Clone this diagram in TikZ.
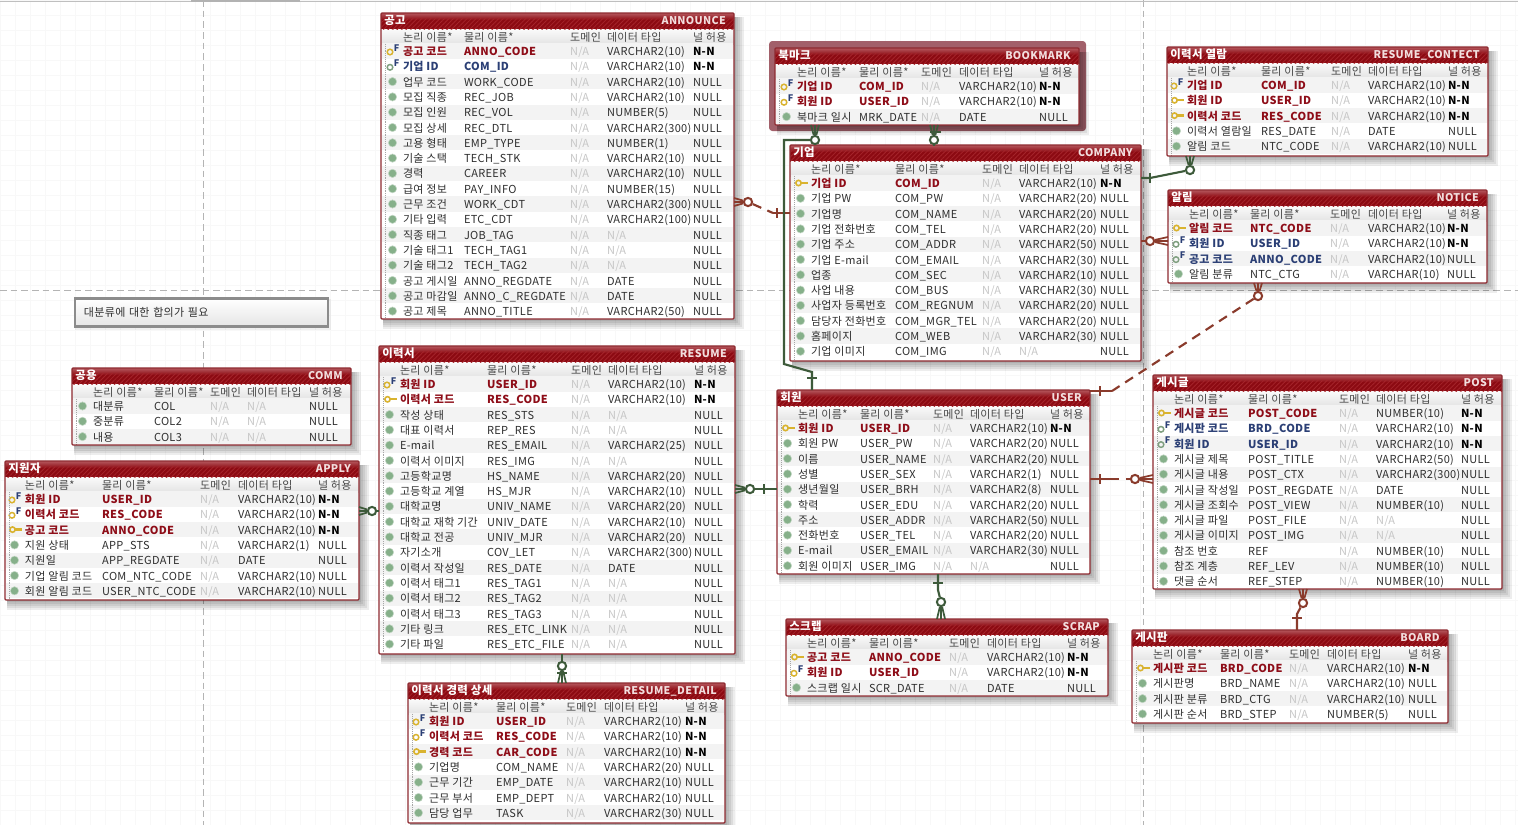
\documentclass[tikz,border=0pt]{standalone}
\usepackage{fontspec}
\setmainfont{Noto Sans CJK KR}[LetterSpace=3]
\usetikzlibrary{patterns.meta,calc}
\definecolor{frame}{HTML}{8E2A30}
\definecolor{barhi}{HTML}{B5575D}
\definecolor{barlo}{HTML}{8C0A12}
\definecolor{hatch}{HTML}{A5242B}
\definecolor{pinkw}{HTML}{F2DEDE}
\definecolor{stripe}{HTML}{F3F3F3}
\definecolor{hdhi}{HTML}{FAFAFA}
\definecolor{hdlo}{HTML}{E4E4E4}
\definecolor{txt}{HTML}{2E2E2E}
\definecolor{hdr}{HTML}{484848}
\definecolor{nagray}{HTML}{C6C6C6}
\definecolor{pkred}{HTML}{8E0D18}
\definecolor{fkblue}{HTML}{2B3F75}
\definecolor{keyyel}{HTML}{D9B32F}
\definecolor{keygrn}{HTML}{7F9F7F}
\definecolor{dotgrn}{HTML}{86B08A}
\definecolor{relg}{HTML}{3D5A3A}
\definecolor{relb}{HTML}{8A3B2C}
\definecolor{gridc}{HTML}{F8F8F8}
\definecolor{pagec}{HTML}{B4B4B4}
\definecolor{halo}{HTML}{A2606A}
\tikzset{
  cell/.style={anchor=base west,inner sep=0pt,outer sep=0pt,font=\fontsize{8.25}{10}\selectfont},
  colhd/.style={cell,text=hdr},
  namec/.style={cell,text=txt},
  namep/.style={cell,text=pkred,font=\fontsize{8.25}{10}\selectfont\bfseries},
  namef/.style={namep},
  namek/.style={cell,text=fkblue,font=\fontsize{8.25}{10}\selectfont\bfseries},
  valY/.style={cell,text=black,font=\fontsize{8.25}{10}\selectfont\bfseries},
  valN/.style={cell,text=txt},
  tabbox/.style={rectangle,draw=none,fill=white,inner sep=0pt,outer sep=0pt},
  relgreen/.style={draw=relg,line width=1.6pt},
  relbrown/.style={draw=relb,line width=1.6pt},
  reldash/.style={relbrown,dash pattern=on 7pt off 5pt},
  ringg/.style={circle,draw=relg,line width=1.5pt,fill=white,minimum size=6.2pt,inner sep=0pt},
  ringb/.style={circle,draw=relb,line width=1.5pt,fill=white,minimum size=6.2pt,inner sep=0pt},
}
\def\ernullY{N-N}
\def\ernullN{NULL}
\newcommand\navl{\textcolor{nagray}{N/A}}
\def\ficon#1#2#3{% x y colour
  \draw[#3,line width=1.1pt] (#1-3.5,#2+1) circle[radius=2.1pt];
  \node[inner sep=0pt,text=fkblue,font=\fontsize{6.8}{7}\selectfont\bfseries] at (#1+3,#2-3) {F};}
\def\ermarkp#1#2{%
  \draw[keyyel,line width=1.2pt] (#1-3,#2) circle[radius=2pt];
  \draw[keyyel,line width=1.7pt] (#1-.5,#2) -- (#1+6,#2);}
\def\ermarkf#1#2{\ficon{#1}{#2}{keyyel}}
\def\ermarkk#1#2{\ficon{#1}{#2}{keygrn}}
\def\ermarkc#1#2{\fill[dotgrn,draw=dotgrn!50!white,line width=.4pt] (#1-1,#2) circle[radius=3.1pt];}
\def\parsecols#1/#2/#3/#4/#5\relax{\def\ca{#1}\def\cb{#2}\def\cc{#3}\def\cd{#4}\def\ce{#5}}
% id x1 y1 x2 y2 korean english columns rows
\def\ertable#1#2#3#4#5#6#7#8#9{%
  \parsecols#8\relax
  \foreach \s in {10,8,6,4,2}{\fill[black,opacity=.07] (#2+2,#3+4) rectangle (#4+\s,#5+\s);}
  \node[tabbox,minimum width={(#4-#2)*.75pt},minimum height={(#5-#3)*.75pt}] (#1) at ({(#2+#4)/2},{(#3+#5)/2}) {};
  \fill[top color=hdhi,bottom color=hdlo] (#2,#3+16) rectangle (#4,#3+31);
  \foreach \mk/\lgn/\ph/\ty/\nl [count=\i] in {#9}{
    \pgfmathsetmacro\yy{#3+38+(\i-1)*15.3}
    \ifodd\i\relax\fill[stripe] (#2+1,\yy-7.6) rectangle (#4-1,\yy+7.6);\fi
    \csname ermark\mk\endcsname{\ca-9.5}{\yy}
    \node[name\mk] (#1-\i-l) at (\ca,\yy+4.5) {\lgn};
    \node[name\mk] (#1-\i-p) at (\cb,\yy+4.5) {\ph};
    \node[cell,text=nagray] (#1-\i-d) at (\cc,\yy+4.5) {N/A};
    \node[cell,text=txt] (#1-\i-t) at (\cd,\yy+4.5) {\ty};
    \node[val\nl] (#1-\i-n) at (\ce,\yy+4.5) {\csname ernull\nl\endcsname};
  }
  \draw[black!35,densely dotted,line width=.4pt] (#2+4,#3+31) -- (#2+4,#5-1);
  \fill[top color=barhi,bottom color=barlo] (#2,#3) rectangle (#4,#3+7);
  \fill[barlo] (#2,#3+7) rectangle (#4,#3+16);
  \fill[pattern={Lines[angle=45,distance=2.4pt,line width=.6pt]},pattern color=hatch] (#2,#3+5) rectangle (#4,#3+16);
  \node[anchor=base west,inner sep=0pt,text=white,font=\fontsize{8.6}{10}\selectfont\bfseries] (#1-kr) at (#2+3,#3+11.5) {#6};
  \node[anchor=base east,inner sep=0pt,text=pinkw,font=\fontsize{8}{10}\selectfont\bfseries] (#1-en) at (#4-8,#3+11.5) {#7};
  \node[colhd] (#1-h1) at (\ca,#3+28) {논리 이름*};
  \node[colhd] (#1-h2) at (\cb,#3+28) {물리 이름*};
  \node[colhd] (#1-h3) at (\cc,#3+28) {도메인};
  \node[colhd] (#1-h4) at (\cd,#3+28) {데이터 타입};
  \node[colhd] (#1-h5) at (\ce,#3+28) {널 허용};
  \draw[frame,line width=.9pt,rounded corners=.8pt] (#2,#3) rectangle (#4,#5);
}
% circle-node, target, offset: three-line crow's foot
\def\crow#1#2#3#4{\draw[#4,line width=1.3pt] (#1) -- ($(#2)+(#3)$) (#1) -- (#2) (#1) -- ($(#2)-(#3)$);}
\catcode`\_=12
\begin{document}
\begin{tikzpicture}[x=.75pt,y=-.75pt]
\useasboundingbox (0,0) rectangle (1518,825);
\fill[white] (0,0) rectangle (1518,825);
% faint sheet grid
\foreach \gx in {0,15,...,1515}{\draw[gridc,line width=.4pt] (\gx,0) -- (\gx,825);}
\foreach \gy in {0,15,...,825}{\draw[gridc,line width=.4pt] (0,\gy) -- (1518,\gy);}
% page breaks
\draw[pagec,line width=.6pt,dash pattern=on 5pt off 3pt] (203,0) -- (203,825);
\draw[pagec,line width=.6pt,dash pattern=on 5pt off 3pt] (1143,0) -- (1143,825);
\draw[pagec,line width=.6pt,dash pattern=on 5pt off 3pt] (0,290) -- (1518,290);
\draw[black!25,line width=.5pt] (0,1.5) -- (1518,1.5);
\fill[black!30] (191,0) rectangle (300,2);
% note
\fill[black,opacity=.06] (75,299) rectangle (331,330);
\node[rectangle,draw=black!45,line width=2.1pt,top color=white,bottom color=black!10,minimum width=253*.75pt,minimum height=28*.75pt,text width=235*.75pt,inner xsep=6.75pt,inner ysep=0pt,align=left,anchor=north west,text=txt,font=\fontsize{8.25}{10}\selectfont] (note) at (73.5,297) {대분류에 대한 합의가 필요};

\ertable{announce}{381}{13}{734}{319}{공고}{ANNOUNCE}{403/464/570/607/693}{
 f/공고 코드/ANNO_CODE/VARCHAR2(10)/Y, k/기업 ID/COM_ID/VARCHAR2(10)/Y,
 c/업무 코드/WORK_CODE/VARCHAR2(10)/N, c/모집 직종/REC_JOB/VARCHAR2(10)/N,
 c/모집 인원/REC_VOL/NUMBER(5)/N, c/모집 상세/REC_DTL/VARCHAR2(300)/N,
 c/고용 형태/EMP_TYPE/NUMBER(1)/N, c/기술 스택/TECH_STK/VARCHAR2(10)/N,
 c/경력/CAREER/VARCHAR2(10)/N, c/급여 정보/PAY_INFO/NUMBER(15)/N,
 c/근무 조건/WORK_CDT/VARCHAR2(300)/N, c/기타 입력/ETC_CDT/VARCHAR2(100)/N,
 c/직종 태그/JOB_TAG/\navl/N, c/기술 태그1/TECH_TAG1/\navl/N,
 c/기술 태그2/TECH_TAG2/\navl/N, c/공고 게시일/ANNO_REGDATE/DATE/N,
 c/공고 마감일/ANNO_C_REGDATE/DATE/N, c/공고 제목/ANNO_TITLE/VARCHAR2(50)/N}

\fill[halo,rounded corners=2.5pt] (769,41) rectangle (1086,131);
\ertable{bookmark}{775}{48}{1079}{125}{북마크}{BOOKMARK}{797/859/921/959/1039}{
 f/기업 ID/COM_ID/VARCHAR2(10)/Y, f/회원 ID/USER_ID/VARCHAR2(10)/Y,
 c/북마크 일시/MRK_DATE/DATE/N}

\ertable{company}{790}{145}{1141}{361}{기업}{COMPANY}{811/895/982/1019/1100}{
 p/기업 ID/COM_ID/VARCHAR2(10)/Y, c/기업 PW/COM_PW/VARCHAR2(20)/N,
 c/기업명/COM_NAME/VARCHAR2(20)/N, c/기업 전화번호/COM_TEL/VARCHAR2(20)/N,
 c/기업 주소/COM_ADDR/VARCHAR2(50)/N, c/기업 E-mail/COM_EMAIL/VARCHAR2(30)/N,
 c/업종/COM_SEC/VARCHAR2(10)/N, c/사업 내용/COM_BUS/VARCHAR2(30)/N,
 c/사업자 등록번호/COM_REGNUM/VARCHAR2(20)/N, c/담당자 전화번호/COM_MGR_TEL/VARCHAR2(20)/N,
 c/홈페이지/COM_WEB/VARCHAR2(30)/N, c/기업 이미지/COM_IMG/\navl/N}

\ertable{contect}{1167}{47}{1488}{156}{이력서 열람}{RESUME_CONTECT}{1187/1261/1331/1368/1448}{
 f/기업 ID/COM_ID/VARCHAR2(10)/Y, p/회원 ID/USER_ID/VARCHAR2(10)/Y,
 p/이력서 코드/RES_CODE/VARCHAR2(10)/Y, c/이력서 열람일/RES_DATE/DATE/N,
 c/알림 코드/NTC_CODE/VARCHAR2(10)/N}

\ertable{notice}{1168}{190}{1487}{283}{알림}{NOTICE}{1189/1250/1330/1368/1447}{
 p/알림 코드/NTC_CODE/VARCHAR2(10)/Y, k/회원 ID/USER_ID/VARCHAR2(10)/Y,
 k/공고 코드/ANNO_CODE/VARCHAR2(10)/N, c/알림 분류/NTC_CTG/VARCHAR(10)/N}

\ertable{comm}{72}{368}{351}{445}{공용}{COMM}{93/154/210/247/309}{
 c/대분류/COL/\navl/N, c/중분류/COL2/\navl/N, c/내용/COL3/\navl/N}

\ertable{apply}{5}{461}{359}{600}{지원자}{APPLY}{25/102/200/238/318}{
 f/회원 ID/USER_ID/VARCHAR2(10)/Y, f/이력서 코드/RES_CODE/VARCHAR2(10)/Y,
 p/공고 코드/ANNO_CODE/VARCHAR2(10)/Y, c/지원 상태/APP_STS/VARCHAR2(1)/N,
 c/지원일/APP_REGDATE/DATE/N, c/기업 알림 코드/COM_NTC_CODE/VARCHAR2(10)/N,
 c/회원 알림 코드/USER_NTC_CODE/VARCHAR2(10)/N}

\ertable{resume}{379}{346}{735}{654}{이력서}{RESUME}{400/487/571/608/694}{
 f/회원 ID/USER_ID/VARCHAR2(10)/Y, p/이력서 코드/RES_CODE/VARCHAR2(10)/Y,
 c/작성 상태/RES_STS/\navl/N, c/대표 이력서/REP_RES/\navl/N,
 c/E-mail/RES_EMAIL/VARCHAR2(25)/N, c/이력서 이미지/RES_IMG/\navl/N,
 c/고등학교명/HS_NAME/VARCHAR2(20)/N, c/고등학교 계열/HS_MJR/VARCHAR2(10)/N,
 c/대학교명/UNIV_NAME/VARCHAR2(20)/N, c/대학교 재학 기간/UNIV_DATE/VARCHAR2(10)/N,
 c/대학교 전공/UNIV_MJR/VARCHAR2(20)/N, c/자기소개/COV_LET/VARCHAR2(300)/N,
 c/이력서 작성일/RES_DATE/DATE/N, c/이력서 태그1/RES_TAG1/\navl/N,
 c/이력서 태그2/RES_TAG2/\navl/N, c/이력서 태그3/RES_TAG3/\navl/N,
 c/기타 링크/RES_ETC_LINK/\navl/N, c/기타 파일/RES_ETC_FILE/\navl/N}

\ertable{detail}{408}{683}{725}{823}{이력서 경력 상세}{RESUME_DETAIL}{429/496/566/604/685}{
 f/회원 ID/USER_ID/VARCHAR2(10)/Y, f/이력서 코드/RES_CODE/VARCHAR2(10)/Y,
 p/경력 코드/CAR_CODE/VARCHAR2(10)/Y, c/기업명/COM_NAME/VARCHAR2(20)/N,
 c/근무 기간/EMP_DATE/VARCHAR2(10)/N, c/근무 부서/EMP_DEPT/VARCHAR2(10)/N,
 c/담당 업무/TASK/VARCHAR2(30)/N}

\ertable{user}{777}{390}{1090}{574}{회원}{USER}{798/860/933/970/1050}{
 p/회원 ID/USER_ID/VARCHAR2(10)/Y, c/회원 PW/USER_PW/VARCHAR2(20)/N,
 c/이름/USER_NAME/VARCHAR2(20)/N, c/성별/USER_SEX/VARCHAR2(1)/N,
 c/생년월일/USER_BRH/VARCHAR2(8)/N, c/학력/USER_EDU/VARCHAR2(20)/N,
 c/주소/USER_ADDR/VARCHAR2(50)/N, c/전화번호/USER_TEL/VARCHAR2(20)/N,
 c/E-mail/USER_EMAIL/VARCHAR2(30)/N, c/회원 이미지/USER_IMG/\navl/N}

\ertable{post}{1153}{375}{1502}{589}{게시글}{POST}{1174/1248/1339/1376/1461}{
 p/게시글 코드/POST_CODE/NUMBER(10)/Y, k/게시판 코드/BRD_CODE/VARCHAR2(10)/Y,
 k/회원 ID/USER_ID/VARCHAR2(10)/Y, c/게시글 제목/POST_TITLE/VARCHAR2(50)/N,
 c/게시글 내용/POST_CTX/VARCHAR2(300)/N, c/게시글 작성일/POST_REGDATE/DATE/N,
 c/게시글 조회수/POST_VIEW/NUMBER(10)/N, c/게시글 파일/POST_FILE/\navl/N,
 c/게시글 이미지/POST_IMG/\navl/N, c/참조 번호/REF/NUMBER(10)/N,
 c/참조 계층/REF_LEV/NUMBER(10)/N, c/댓글 순서/REF_STEP/NUMBER(10)/N}

\ertable{board}{1132}{630}{1448}{723}{게시판}{BOARD}{1153/1220/1289/1327/1408}{
 p/게시판 코드/BRD_CODE/VARCHAR2(10)/Y, c/게시판명/BRD_NAME/VARCHAR2(10)/N,
 c/게시판 분류/BRD_CTG/VARCHAR2(10)/N, c/게시판 순서/BRD_STEP/NUMBER(5)/N}

\ertable{scrap}{786}{619}{1108}{696}{스크랩}{SCRAP}{807/869/949/987/1067}{
 p/공고 코드/ANNO_CODE/VARCHAR2(10)/Y, f/회원 ID/USER_ID/VARCHAR2(10)/Y,
 c/스크랩 일시/SCR_DATE/DATE/N}

% --- relationships ---
% ANNOUNCE - COMPANY
\node[ringb] (r1) at (748,202) {};
\coordinate (r1m) at (773,213);
\draw[reldash] (r1) -- (r1m);
\draw[relbrown] (r1m) -- (company.west |- 0,213);
\draw[relb,line width=1.3pt] (777,208) -- (777,218);
\crow{r1}{announce.east |- 0,202}{0,4}{relb}
% USER - BOOKMARK
\node[ringg] (r2) at (815,140) {};
\draw[relgreen] (r2) -- (784,140) -- (784,364) -- (812,372) -- (812,0 |- user.north);
\draw[relg,line width=1.3pt] (807,378) -- (817,378);
\crow{r2}{815,0 |- bookmark.south}{4,0}{relg}
% COMPANY - BOOKMARK
\node[ringg] (r3) at (934,140) {};
\draw[relgreen] (r3) -- (934,0 |- company.north);
\draw[relg,line width=1.3pt] (930,132) -- (941,132);
\crow{r3}{934,0 |- bookmark.south}{4,0}{relg}
% COMPANY - RESUME_CONTECT
\node[ringg] (r4) at (1190,170) {};
\draw[relgreen] (company.east |- 0,178) -- (1150,178) -- (r4);
\draw[relg,line width=1.3pt] (1150,173) -- (1150,183);
\crow{r4}{1190,0 |- contect.south}{4,0}{relg}
% COMPANY - NOTICE
\node[ringb] (r5) at (1150,241) {};
\draw[relbrown] (company.east |- 0,241) -- (r5);
\crow{r5}{notice.west |- 0,241}{0,4}{relb}
% NOTICE - USER
\node[ringb] (r6) at (1258,296) {};
\coordinate (r6m) at (1112,391);
\draw[reldash] (r6) -- (r6m);
\draw[relbrown] (r6m) -- (user.east |- 0,391);
\draw[relb,line width=1.3pt] (1100,386) -- (1100,396);
\crow{r6}{1258,0 |- notice.south}{4,0}{relb}
% RESUME - APPLY
\node[ringg] (r7) at (372,511) {};
\draw[relgreen] (r7) -- (resume.west |- 0,511);
\crow{r7}{apply.east |- 0,511}{0,4}{relg}
% RESUME - USER
\node[ringg] (r8) at (750,489) {};
\draw[relgreen] (r8) -- (user.west |- 0,489);
\draw[relg,line width=1.3pt] (764,484) -- (764,494);
\crow{r8}{resume.east |- 0,489}{0,4}{relg}
% USER - POST
\node[ringb] (r9) at (1135,479) {};
\coordinate (r9m) at (1110,479);
\draw[relbrown] (user.east |- 0,479) -- (r9m);
\draw[reldash] (r9m) -- (r9);
\draw[relb,line width=1.3pt] (1100,474) -- (1100,484);
\crow{r9}{post.west |- 0,479}{0,4}{relb}
% RESUME - DETAIL
\node[ringg] (r10) at (562,666) {};
\draw[relgreen] (562,0 |- resume.south) -- (r10);
\draw[relg,line width=1.3pt] (557,673) -- (567,673);
\crow{r10}{562,0 |- detail.north}{4,0}{relg}
% USER - SCRAP
\node[ringg] (r11) at (941,602) {};
\draw[relgreen] (938,0 |- user.south) -- (938,590) -- (r11);
\draw[relg,line width=1.3pt] (933,583) -- (943,583);
\crow{r11}{941,0 |- scrap.north}{4,0}{relg}
% POST - BOARD
\node[ringb] (r12) at (1303,603) {};
\draw[relbrown] (r12) -- (1297,614) -- (1297,0 |- board.north);
\draw[relb,line width=1.3pt] (1292,618) -- (1302,618);
\crow{r12}{1303,0 |- post.south}{4,0}{relb}
\end{tikzpicture}
\end{document}
